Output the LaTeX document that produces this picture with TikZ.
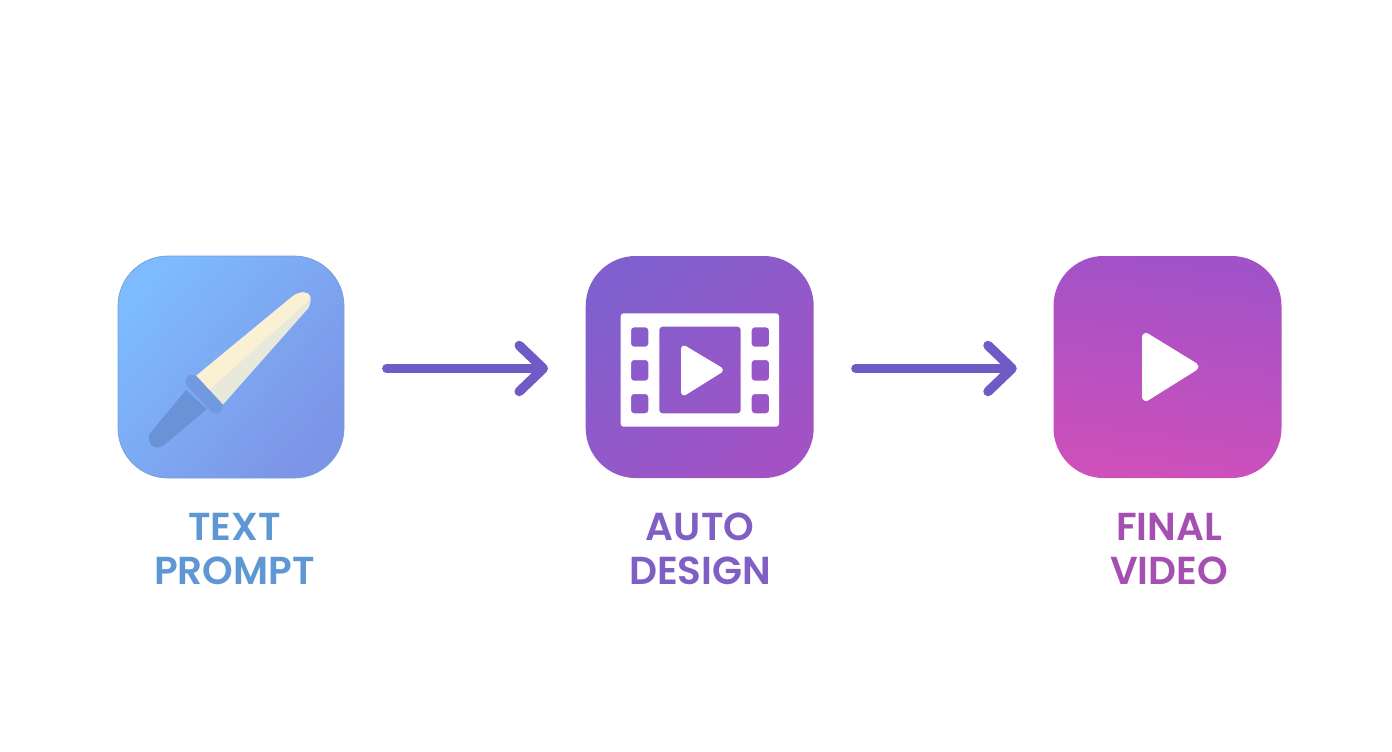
\documentclass[tikz,border=0pt]{standalone}
\usepackage{fontspec}
\setmainfont{Poppins}[BoldFont={Poppins SemiBold}]
\usetikzlibrary{arrows.meta}
\definecolor{arrowc}{HTML}{6F5AC6}
\definecolor{txtA}{HTML}{5E97D4}
\definecolor{txtB}{HTML}{7F5FC4}
\definecolor{txtC}{HTML}{A54FB3}
\definecolor{creamc}{HTML}{FAF0D4}
\definecolor{greyc}{HTML}{E8E9DA}
\definecolor{collarc}{HTML}{7099DF}
\definecolor{handlec}{HTML}{6A92D6}
\definecolor{c1a}{HTML}{7DBAFE}
\definecolor{c1b}{HTML}{7D95E6}
\definecolor{c1e}{HTML}{6FA0DC}
\definecolor{c2a}{HTML}{8060CE}
\definecolor{c2b}{HTML}{A252C4}
\definecolor{c3a}{HTML}{A052C8}
\definecolor{c3b}{HTML}{CE50BA}
\tikzset{
  icon/.style={minimum height=222pt,inner sep=0pt,rounded corners=50pt},
  icona/.style={icon,minimum width=226pt,top color=c1a,bottom color=c1b,shading angle=50,draw=c1e,line width=.7pt},
  iconb/.style={icon,minimum width=228pt,top color=c2a,bottom color=c2b,shading angle=40},
  iconc/.style={icon,minimum width=228pt,top color=c3a,bottom color=c3b,shading angle=-8},
  flow/.style={draw=arrowc,line width=8.5pt,line cap=round,
    -{Straight Barb[length=24pt,width=46pt,line width=9.5pt,round]}},
  caption/.style={align=center,font=\fontsize{39}{44}\selectfont\bfseries,inner sep=0pt},
}
\begin{document}
\begin{tikzpicture}[x=1pt,y=-1pt]
\useasboundingbox[fill=white] (0,0) rectangle (1392,752);
% icons
\node[icona] (icon1) at (231,367) {};
\node[iconb] (icon2) at (699.7,367) {};
\node[iconc] (icon3) at (1167.5,367) {};
% brush
\fill[handlec] (186,390) -- (151,432) .. controls (145,439) and (152,452) .. (163,446) -- (207,409) -- cycle;
\fill[greyc] (196.5,375.5) -- (293,296) .. controls (300,291) and (309,291) .. (310.5,297) .. controls (311,302) and (310,305) .. (308,308.5) -- (223,404.5) -- cycle;
\begin{scope}
\clip (196.5,375.5) -- (293,296) .. controls (300,291) and (309,291) .. (310.5,297) .. controls (311,302) and (310,305) .. (308,308.5) -- (223,404.5) -- cycle;
\fill[creamc] (209,390) -- (307,302) -- (315,285) -- (190,285) -- (190,375) -- cycle;
\end{scope}
\path[draw=collarc,line width=13pt,line cap=round] (192,381.5) -- (216,407);
% film strip
\fill[white,even odd rule,rounded corners=3pt]
  (620.7,313.3) rectangle (779,426.7)
  (659.3,326.7) rectangle (740.7,413.3)
  (631,327.3) rectangle (648.3,346.7)
  (631,360) rectangle (648.3,380.7)
  (631,394) rectangle (648.3,413.3)
  (751.7,327.3) rectangle (769,346.7)
  (751.7,360) rectangle (769,380.7)
  (751.7,394) rectangle (769,413.3);
\path[fill=white,draw=white,line width=6pt,line join=round] (684,348.5) -- (720,370) -- (684,392.5) -- cycle;
\path[fill=white,draw=white,line width=8pt,line join=round] (1146,337) -- (1194.5,366.7) -- (1146,397) -- cycle;
% connectors
\draw[flow,shorten <=42pt,shorten >=37.5pt] ([yshift=-1.5pt]icon1.east) -- ([yshift=-1.5pt]icon2.west);
\draw[flow,shorten <=41.5pt,shorten >=36.5pt] ([yshift=-1.5pt]icon2.east) -- ([yshift=-1.5pt]icon3.west);
% labels
\node[caption,text=txtA] (label1) at (234.5,549) {TEXT\\PROMPT};
\node[caption,text=txtB] (label2) at (700,549) {AUTO\\DESIGN};
\node[caption,text=txtC] (label3) at (1169,549) {FINAL\\VIDEO};
\end{tikzpicture}
\end{document}
